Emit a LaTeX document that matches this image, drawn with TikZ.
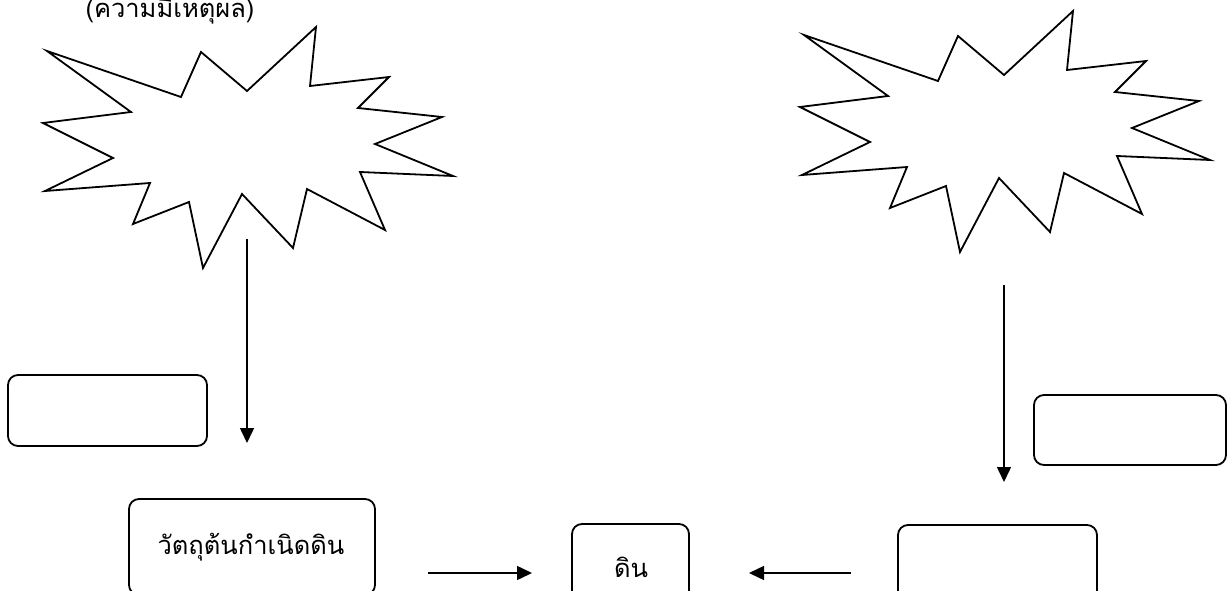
\documentclass[tikz,border=0pt]{standalone}
\usepackage{fontspec}
\newfontfamily\thaifont[Script=Thai]{Loma}
\usetikzlibrary{arrows.meta}
\tikzset{
  burst/.style={draw=black, line width=1.8pt, line join=miter, fill=white},
  rbox/.style={draw=black, line width=1.8pt, rounded corners=10pt, minimum width=#1, inner sep=0pt},
  conn/.style={draw=black, line width=1.5pt, -{Triangle[length=15pt,width=14pt]}},
  lbl/.style={font=\thaifont\fontsize{25.5}{30}\selectfont, inner sep=0pt, anchor=base},
}
\begin{document}
\begin{tikzpicture}[x=1pt,y=-1pt]
\useasboundingbox (0,0) rectangle (1227,591);
\begin{scope}
\clip (0,0) rectangle (1227,591);
% top caption
\node[lbl] (cap) at (170,18) {(ความมีเหตุผล)};
% left burst
\draw[burst] (47,51) -- (181,97) -- (201,52) -- (247,91) -- (316,27) -- (310,86) -- (389,77) -- (358,108) -- (442,117) -- (375,144) -- (453,176) -- (360,172) -- (385,230) -- (307,189) -- (293,248) -- (242,194) -- (203,268) -- (189,202) -- (133,224) -- (150,183) -- (45,191) -- (113,158) -- (43,123) -- (131,112) -- cycle;
% right burst
\begin{scope}[shift={(757,-16)}]
\draw[burst] (47,51) -- (181,97) -- (201,52) -- (247,91) -- (316,27) -- (310,86) -- (389,77) -- (358,108) -- (442,117) -- (375,144) -- (453,176) -- (360,172) -- (385,230) -- (307,189) -- (293,248) -- (242,194) -- (203,268) -- (189,202) -- (133,224) -- (150,183) -- (45,191) -- (113,158) -- (43,123) -- (131,112) -- cycle;
\end{scope}
% boxes
\node[rbox=199pt, minimum height=71pt] (bl) at (107.5,410.5) {};
\node[rbox=246pt, minimum height=96pt] (parent) at (252,547) {};
\node[rbox=117pt, minimum height=80pt] (soil) at (630.5,564) {};
\node[rbox=199pt, minimum height=80pt] (br) at (997.5,565) {};
\node[rbox=192pt, minimum height=70pt] (bur) at (1130,430) {};
% labels
\node[lbl] (tparent) at (251,554) {วัตถุต้นกำเนิดดิน};
\node[lbl] (tsoil) at (631,577) {ดิน};
% connector end points
\coordinate (a1s) at (247,239);
\coordinate (a1e) at (247,443);
\coordinate (a2s) at (1004,285);
\coordinate (a2e) at (1004,482);
\coordinate (a3s) at (428,573);
\coordinate (a3e) at (532,573);
\coordinate (a4s) at (851,573);
\coordinate (a4e) at (749,573);
\draw[conn] (a1s) -- (a1e);
\draw[conn] (a2s) -- (a2e);
\draw[conn] (a3s) -- (a3e);
\draw[conn] (a4s) -- (a4e);
\end{scope}
\end{tikzpicture}
\end{document}
